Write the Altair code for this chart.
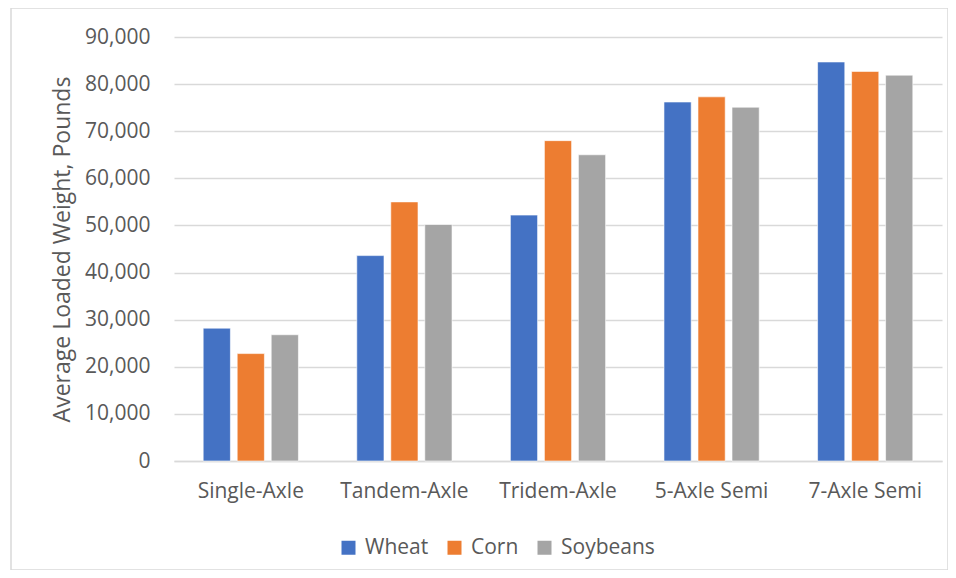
import altair as alt
import pandas as pd

categories = ["Single-Axle", "Tandem-Axle", "Tridem-Axle", "5-Axle Semi", "7-Axle Semi"]
series = ["Wheat", "Corn", "Soybeans"]
wheat = [28200, 43600, 52200, 76200, 84700]
corn = [22800, 55000, 68000, 77300, 82700]
soybeans = [26800, 50200, 65000, 75100, 81900]
colors = ["#4472C4", "#ED7D31", "#A5A5A5"]

rows = []
for name, vals in zip(series, [wheat, corn, soybeans]):
    for c, v in zip(categories, vals):
        rows.append({"Truck": c, "Crop": name, "Weight": v})
df = pd.DataFrame(rows)

FONT = "Open Sans"
GREY = "#595959"

bars = alt.Chart(df).mark_bar(stroke="white", strokeWidth=0.6).encode(
    x=alt.X("Truck:N", sort=categories, title=None,
            scale=alt.Scale(paddingInner=0.38, paddingOuter=0.19),
            axis=alt.Axis(labelAngle=0, labelFontSize=21, labelColor=GREY, labelFont=FONT,
                          ticks=False, domainColor="#D9D9D9", domainWidth=1.5, labelPadding=19)),
    xOffset=alt.XOffset("Crop:N", sort=series, scale=alt.Scale(paddingInner=0.2)),
    y=alt.Y("Weight:Q", title="Average Loaded Weight, Pounds",
            scale=alt.Scale(domain=[0, 90000]),
            axis=alt.Axis(values=list(range(0, 90001, 10000)), format=",d", labelFontSize=21,
                          labelColor=GREY, labelFont=FONT, ticks=False, domain=False,
                          gridColor="#D9D9D9", gridWidth=1.5, labelPadding=24,
                          titleFontSize=23, titleColor=GREY, titleFont=FONT,
                          titleFontWeight="normal", titlePadding=10)),
    color=alt.Color("Crop:N", sort=series,
                    scale=alt.Scale(domain=series, range=colors),
                    legend=alt.Legend(title=None, orient="none", direction="horizontal",
                                      legendX=164, legendY=500, symbolType="square",
                                      symbolSize=196, symbolStrokeWidth=0, labelFontSize=21,
                                      labelColor=GREY, labelFont=FONT, columnPadding=15,
                                      labelOffset=6)),
)

border = alt.Chart(pd.DataFrame({"a": [0]})).mark_rect(
    fill="transparent", stroke="#D9D9D9", strokeWidth=1.5
).encode(
    x=alt.value(-163), x2=alt.value(774), y=alt.value(-29), y2=alt.value(533)
)

chart = alt.layer(border, bars).properties(
    width=768, height=424,
    autosize=alt.AutoSizeParams(type="none"),
    padding={"left": 166, "top": 29, "right": 6, "bottom": 109},
).configure_view(stroke=None)

chart.save("out.html", embed_options={"renderer": "svg", "actions": False})
